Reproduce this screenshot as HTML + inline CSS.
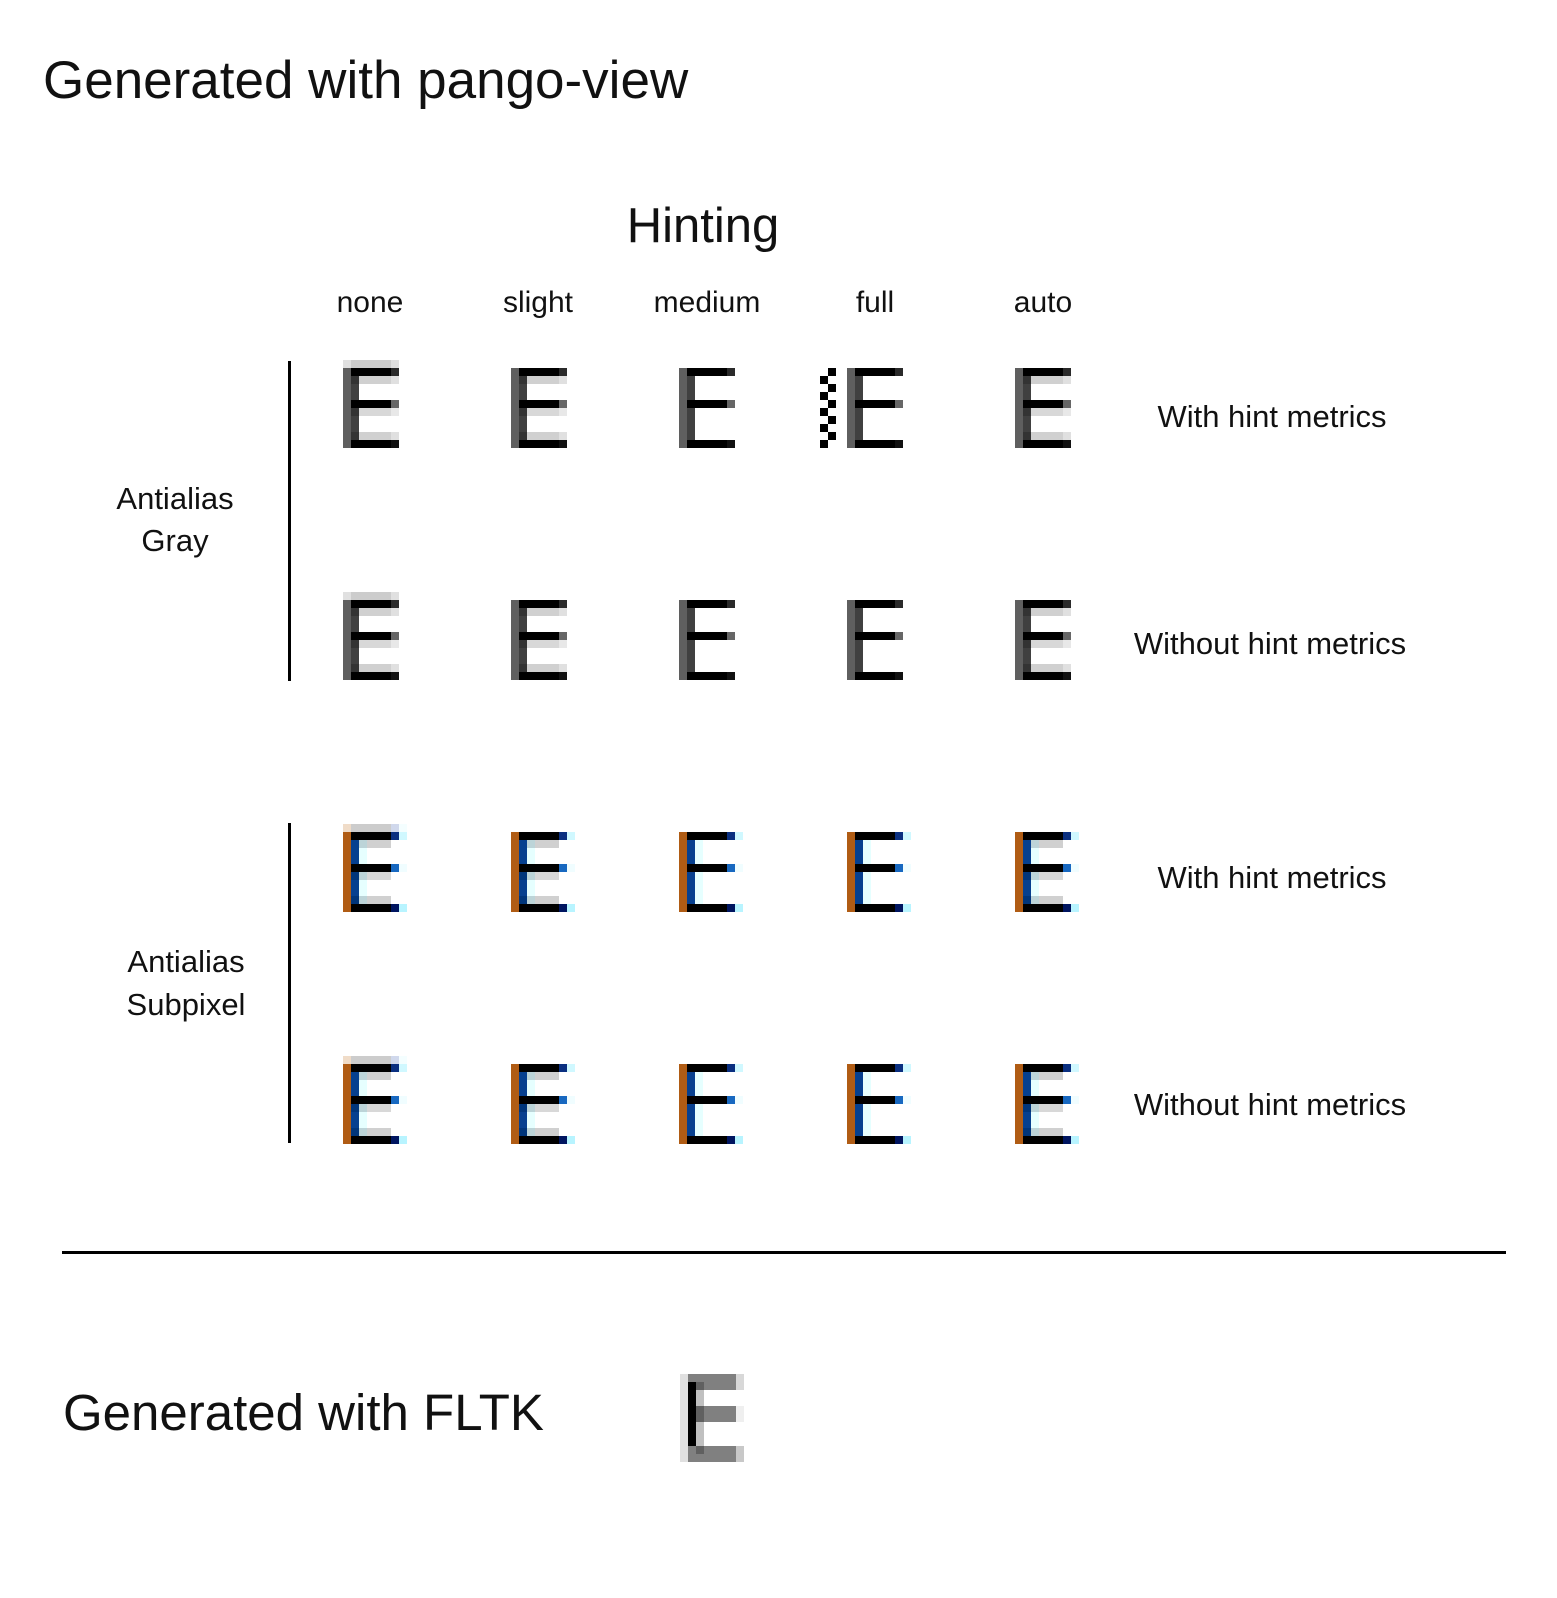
<!DOCTYPE html>
<html><head><meta charset="utf-8"><style>html,body{margin:0;padding:0;background:#fff}svg{display:block}</style></head>
<body>
<svg width="1557" height="1598" viewBox="0 0 1557 1598" xmlns="http://www.w3.org/2000/svg" font-family="Liberation Sans, DejaVu Sans, sans-serif">
<defs>
<g id="gB">
<rect x="0" y="0" width="8" height="80" fill="#5f5f5f"/>
<rect x="8" y="8" width="8" height="64" fill="#404040"/>
<rect x="8" y="0" width="40" height="8" fill="#000"/><rect x="48" y="0" width="8" height="8" fill="#2a2a2a"/>
<rect x="8" y="32" width="40" height="8" fill="#000"/><rect x="48" y="32" width="8" height="8" fill="#666"/>
<rect x="8" y="72" width="40" height="8" fill="#000"/><rect x="48" y="72" width="8" height="8" fill="#111"/>
</g>
<g id="gA">
<use href="#gB"/>
<rect x="16" y="8" width="32" height="8" fill="#d0d0d0"/><rect x="48" y="8" width="8" height="8" fill="#e0e0e0"/>
<rect x="16" y="40" width="32" height="8" fill="#d8d8d8"/><rect x="48" y="40" width="8" height="8" fill="#e8e8e8"/>
<rect x="16" y="64" width="32" height="8" fill="#d0d0d0"/><rect x="48" y="64" width="8" height="8" fill="#e0e0e0"/>
<rect x="8" y="8" width="8" height="8" fill="#333"/><rect x="8" y="40" width="8" height="8" fill="#333"/><rect x="8" y="64" width="8" height="8" fill="#333"/>
</g>
<g id="gN">
<use href="#gA"/>
<rect x="0" y="-8" width="8" height="8" fill="#e0e0e0"/>
<rect x="8" y="-8" width="40" height="8" fill="#cccccc"/>
<rect x="48" y="-8" width="8" height="8" fill="#e0e0e0"/>
</g>
<g id="sB">
<rect x="0" y="0" width="8" height="80" fill="#b05c14"/>
<rect x="8" y="8" width="8" height="64" fill="#06408f"/>
<rect x="16" y="8" width="8" height="64" fill="#e6ffff"/>
<rect x="8" y="0" width="40" height="8" fill="#000"/><rect x="48" y="0" width="8" height="8" fill="#0a2f80"/><rect x="56" y="0" width="8" height="8" fill="#d0f8ff"/>
<rect x="8" y="32" width="40" height="8" fill="#000"/><rect x="48" y="32" width="8" height="8" fill="#1868c0"/><rect x="56" y="32" width="8" height="8" fill="#f0fdff"/>
<rect x="8" y="72" width="40" height="8" fill="#000"/><rect x="48" y="72" width="8" height="8" fill="#001560"/><rect x="56" y="72" width="8" height="8" fill="#b8f4ff"/>
</g>
<g id="sA">
<use href="#sB"/>
<rect x="16" y="8" width="32" height="8" fill="#d0d0d0"/><rect x="16" y="8" width="8" height="8" fill="#bcd4d8"/>
<rect x="16" y="40" width="32" height="8" fill="#d8d8d8"/><rect x="16" y="40" width="8" height="8" fill="#bcd4d8"/>
<rect x="16" y="64" width="32" height="8" fill="#d0d0d0"/><rect x="16" y="64" width="8" height="8" fill="#bcd4d8"/>
<rect x="8" y="40" width="8" height="8" fill="#00357a"/><rect x="8" y="64" width="8" height="8" fill="#00357a"/>
</g>
<g id="sN">
<use href="#sA"/>
<rect x="0" y="-8" width="8" height="8" fill="#f0dcc8"/>
<rect x="8" y="-8" width="40" height="8" fill="#cccccc"/>
<rect x="48" y="-8" width="8" height="8" fill="#d0d8ec"/>
<rect x="56" y="-8" width="8" height="8" fill="#f4feff"/>
</g>
</defs>

<text x="43" y="98" font-size="53" fill="#111">Generated with pango-view</text>
<text x="703" y="242" font-size="49" fill="#111" text-anchor="middle">Hinting</text>
<g font-size="30" fill="#111" text-anchor="middle">
<text x="370" y="312">none</text>
<text x="538" y="312">slight</text>
<text x="707" y="312">medium</text>
<text x="875" y="312">full</text>
<text x="1043" y="312">auto</text>
</g>
<g font-size="31" fill="#111" text-anchor="middle">
<text x="1272" y="427">With hint metrics</text>
<text x="1270" y="654">Without hint metrics</text>
<text x="1272" y="888">With hint metrics</text>
<text x="1270" y="1115">Without hint metrics</text>
<text x="175" y="509">Antialias</text>
<text x="175" y="551">Gray</text>
<text x="186" y="972">Antialias</text>
<text x="186" y="1015">Subpixel</text>
</g>

<rect x="288" y="361" width="3" height="320" fill="#000"/>
<rect x="288" y="823" width="3" height="320" fill="#000"/>
<rect x="62" y="1251" width="1444" height="3" fill="#000"/>

<use href="#gN" x="343" y="368"/>
<use href="#gA" x="511" y="368"/>
<use href="#gB" x="679" y="368"/>
<use href="#gB" x="847" y="368"/>
<use href="#gA" x="1015" y="368"/>
<g fill="#000">
<rect x="828" y="368" width="8" height="8"/><rect x="820" y="376" width="8" height="8"/>
<rect x="828" y="384" width="8" height="8"/><rect x="820" y="392" width="8" height="8"/>
<rect x="828" y="400" width="8" height="8"/><rect x="820" y="408" width="8" height="8"/>
<rect x="828" y="416" width="8" height="8"/><rect x="820" y="424" width="8" height="8"/>
<rect x="828" y="432" width="8" height="8"/><rect x="820" y="440" width="8" height="8"/>
</g>
<use href="#gN" x="343" y="600"/>
<use href="#gA" x="511" y="600"/>
<use href="#gB" x="679" y="600"/>
<use href="#gB" x="847" y="600"/>
<use href="#gA" x="1015" y="600"/>
<use href="#sN" x="343" y="832"/>
<use href="#sA" x="511" y="832"/>
<use href="#sB" x="679" y="832"/>
<use href="#sB" x="847" y="832"/>
<use href="#sA" x="1015" y="832"/>
<use href="#sN" x="343" y="1064"/>
<use href="#sA" x="511" y="1064"/>
<use href="#sB" x="679" y="1064"/>
<use href="#sB" x="847" y="1064"/>
<use href="#sA" x="1015" y="1064"/>

<text x="63" y="1430" font-size="51" fill="#111">Generated with FLTK</text>
<rect x="680" y="1374" width="8" height="88" fill="#e0e0e0"/>
<rect x="688" y="1374" width="48" height="16" fill="#808080"/>
<rect x="736" y="1374" width="8" height="16" fill="#d8d8d8"/>
<rect x="688" y="1382" width="8" height="72" fill="#000"/>
<rect x="696" y="1382" width="8" height="72" fill="#c0c0c0"/>
<rect x="696" y="1382" width="8" height="8" fill="#606060"/>
<rect x="696" y="1406" width="40" height="16" fill="#808080"/><rect x="696" y="1406" width="8" height="16" fill="#606060"/>
<rect x="736" y="1406" width="8" height="16" fill="#efefef"/>
<rect x="688" y="1446" width="48" height="16" fill="#808080"/><rect x="696" y="1446" width="8" height="8" fill="#606060"/>
<rect x="736" y="1446" width="8" height="16" fill="#c8c8c8"/>
</svg>
</body></html>
